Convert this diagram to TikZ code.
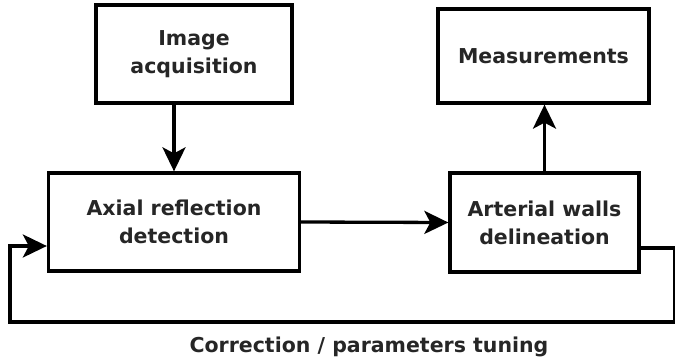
\documentclass[tikz,border=0pt]{standalone}
\usepackage{fontspec}
\setmainfont{DejaVu Sans}
\usetikzlibrary{arrows.meta}
\begin{document}
\begin{tikzpicture}[x=1pt,y=-1pt,
  box/.style={draw=black, line width=3.3pt, fill=white, inner sep=0pt, align=center,
    font=\bfseries\fontsize{20.5}{28}\selectfont, text=black!85},
  arr/.style={line width=3.3pt, -{Stealth[length=24pt,width=23pt,inset=6pt]}}]
\useasboundingbox (0,0) rectangle (675,364);
\node[box, minimum width=196pt, minimum height=98pt] (acq) at (194,54) {Image\\acquisition};
\node[box, minimum width=251pt, minimum height=98pt] (axial) at (174,222) {Axial reflection\\detection};
\node[box, minimum width=211pt, minimum height=94pt] (meas) at (543.5,56) {Measurements};
\node[box, minimum width=189pt, minimum height=99pt] (art) at (544.5,222.5) {Arterial walls\\delineation};
\coordinate (r1) at (675,248);
\coordinate (r2) at (675,322);
\coordinate (l1) at (10,322);
\coordinate (l2) at (10,246);
\draw[arr] (axial.north |- acq.south) -- (axial.north);
\draw[arr] (art.north) -- (art.north |- meas.south);
\draw[arr] (axial.east) -- (art.west);
\draw[arr, line join=miter] (art.east |- r1) -- (r1) -- (r2) -- (l1) -- (l2) -- (axial.west |- l2);
\node[font=\bfseries\fontsize{20.5}{26}\selectfont, text=black!85, inner sep=0pt] (lab) at (369,347) {Correction / parameters tuning};
\end{tikzpicture}
\end{document}
